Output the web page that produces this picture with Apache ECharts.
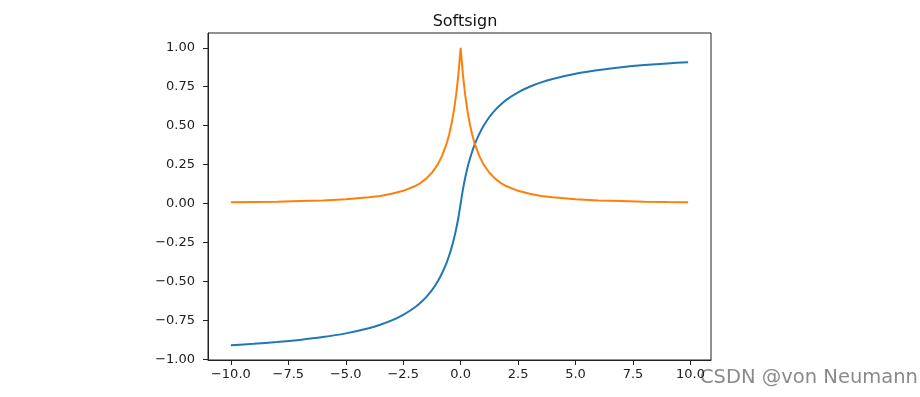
<!DOCTYPE html>
<html>
<head>
<meta charset="utf-8">
<script src="https://cdn.jsdelivr.net/npm/echarts@6/dist/echarts.min.js"></script>
<style>
  html, body { margin: 0; padding: 0; background: #fff; }
  #main { width: 920px; height: 397px; }
</style>
</head>
<body>
<div id="main"></div>
<script>
// x positions (denser near the peak)
var xs = [-10, -9, -8, -7, -6, -5, -4, -3.5, -3, -2.5, -2, -1.75, -1.5, -1.25, -1, -0.8, -0.6, -0.5, -0.4, -0.3, -0.2, -0.1,
  0, 0.1, 0.2, 0.3, 0.4, 0.5, 0.6, 0.8, 1, 1.25, 1.5, 1.75, 2, 2.5, 3, 3.5, 4, 5, 6, 7, 8, 9, 9.9];
// blue curve (softsign)
var softsign = [-0.91, -0.9, -0.889, -0.875, -0.857, -0.833, -0.8, -0.778, -0.75, -0.714, -0.667, -0.636, -0.6, -0.556, -0.5, -0.444, -0.375, -0.333, -0.286, -0.231, -0.167, -0.091,
  0, 0.091, 0.167, 0.231, 0.286, 0.333, 0.375, 0.444, 0.5, 0.556, 0.6, 0.636, 0.667, 0.714, 0.75, 0.778, 0.8, 0.833, 0.857, 0.875, 0.889, 0.9, 0.908];
// orange curve (its slope)
var slope = [0.008, 0.01, 0.012, 0.016, 0.02, 0.028, 0.04, 0.049, 0.063, 0.082, 0.111, 0.132, 0.16, 0.198, 0.25, 0.309, 0.39, 0.444, 0.51, 0.592, 0.694, 0.826,
  1.0, 0.826, 0.694, 0.592, 0.51, 0.444, 0.39, 0.309, 0.25, 0.198, 0.16, 0.132, 0.111, 0.082, 0.063, 0.049, 0.04, 0.028, 0.02, 0.016, 0.012, 0.01, 0.0084];
var xTicks = [-10, -7.5, -5, -2.5, 0, 2.5, 5, 7.5, 10];
var yTicks = [-1, -0.75, -0.5, -0.25, 0, 0.25, 0.5, 0.75, 1];

function pairs(ys) {
  return xs.map(function (x, i) { return [x, ys[i]]; });
}
function fmt(v, d) {
  var s = Math.abs(v).toFixed(d);
  return v < 0 ? '\u2212' + s : s;
}

var chart = echarts.init(document.getElementById('main'), null, { renderer: 'canvas' });
var font = 'DejaVu Sans';
var option = {
  animation: false,
  backgroundColor: '#fff',
  title: {
    text: 'Softsign',
    left: 460,
    textAlign: 'center',
    top: 9,
    textStyle: { fontFamily: font, fontSize: 16, fontWeight: 'normal', color: '#111' }
  },
  grid: {
    left: 208, right: 209, top: 33, bottom: 37,
    show: true, borderColor: '#222', borderWidth: 1
  },
  xAxis: {
    type: 'value',
    min: -10.995, max: 10.895,
    splitLine: { show: false },
    axisLine: { show: true, onZero: false, lineStyle: { color: '#222' } },
    axisTick: { show: true, length: 5, customValues: xTicks, lineStyle: { color: '#222' } },
    axisLabel: {
      customValues: xTicks, margin: 8,
      fontFamily: font, fontSize: 13, color: '#222',
      formatter: function (v) { return fmt(v, 1); }
    }
  },
  yAxis: {
    type: 'value',
    min: -1.004, max: 1.095,
    splitLine: { show: false },
    axisLine: { show: true, onZero: false, lineStyle: { color: '#222' } },
    axisTick: { show: true, length: 5, customValues: yTicks, lineStyle: { color: '#222' } },
    axisLabel: {
      customValues: yTicks, margin: 13,
      fontFamily: font, fontSize: 13, color: '#222',
      formatter: function (v) { return fmt(v, 2); }
    }
  },
  series: [
    {
      type: 'line', data: pairs(softsign), showSymbol: false, smooth: 0.3,
      lineStyle: { color: '#1f77b4', width: 2 }, itemStyle: { color: '#1f77b4' }
    },
    {
      type: 'line', data: pairs(slope), showSymbol: false, smooth: false,
      lineStyle: { color: '#ff7f0e', width: 2 }, itemStyle: { color: '#ff7f0e' }
    }
  ],
  graphic: [
    {
      type: 'text', left: 700, top: 368,
      style: { text: 'CSDN @von Neumann', fontFamily: font, fontSize: 19.5, fill: '#8a8a8a' }
    }
  ]
};
chart.setOption(option);
</script>
</body>
</html>
